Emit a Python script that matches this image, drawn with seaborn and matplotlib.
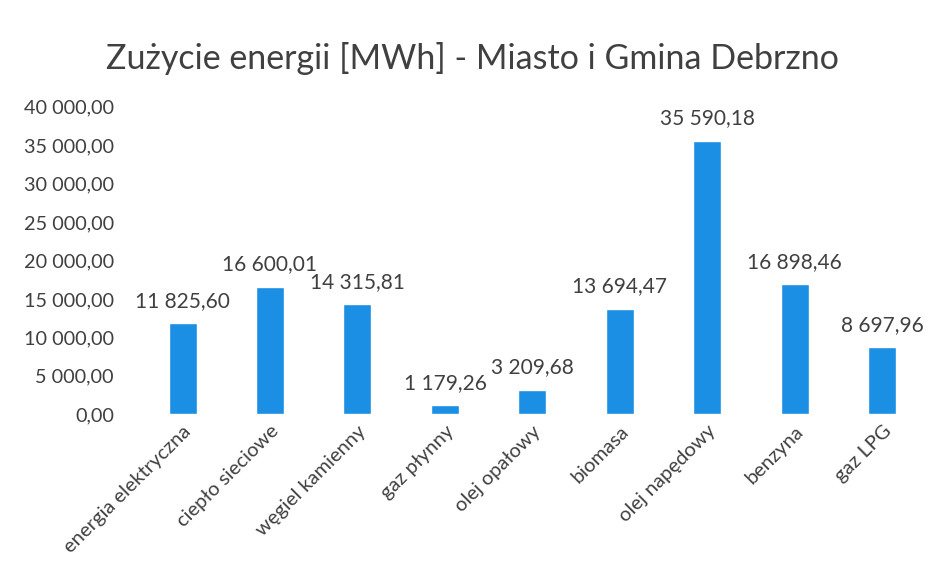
import matplotlib
matplotlib.use('Agg')
import matplotlib.pyplot as plt
import seaborn as sns
import pandas as pd
from matplotlib.ticker import FuncFormatter

categories = ['energia elektryczna', 'ciepło sieciowe', 'węgiel kamienny', 'gaz płynny',
              'olej opałowy', 'biomasa', 'olej napędowy', 'benzyna', 'gaz LPG']
values = [11825.60, 16600.01, 14315.81, 1179.26, 3209.68, 13694.47, 35590.18, 16898.46, 8697.96]


def pl_fmt(v):
    s = f'{v:,.2f}'
    return s.replace(',', ' ').replace('.', ',')


sns.set_style('white')
plt.rcParams['font.family'] = ['Lato', 'DejaVu Sans']
text_color = '#404040'

df = pd.DataFrame({'kategoria': categories, 'wartosc': values})

fig = plt.figure(figsize=(9.44, 5.62), dpi=100)
ax = fig.add_axes([0.147, 0.263, 0.834, 0.547])
sns.barplot(data=df, x='kategoria', y='wartosc', color='#1a8fe3', width=0.32,
            saturation=1, ax=ax)

ax.set_ylim(0, 40000)
ax.set_yticks(range(0, 40001, 5000))
ax.yaxis.set_major_formatter(FuncFormatter(lambda v, p: pl_fmt(v)))
ax.tick_params(axis='y', labelsize=14.3, colors=text_color, length=0, pad=18)
ax.tick_params(axis='x', labelsize=14.5, colors=text_color, length=0, pad=6)
plt.setp(ax.get_xticklabels(), rotation=45, ha='right', rotation_mode='anchor')
ax.set_xlabel('')
ax.set_ylabel('')
for s in ax.spines.values():
    s.set_visible(False)

for i, v in enumerate(values):
    ax.annotate(pl_fmt(v), (i, v), xytext=(0, 9), textcoords='offset points',
                ha='center', va='bottom', fontsize=15, color=text_color)

fig.suptitle('Zużycie energii [MWh] - Miasto i Gmina Debrzno', fontsize=24.5,
             color=text_color, y=0.925)

plt.savefig('out.png', dpi=100)
